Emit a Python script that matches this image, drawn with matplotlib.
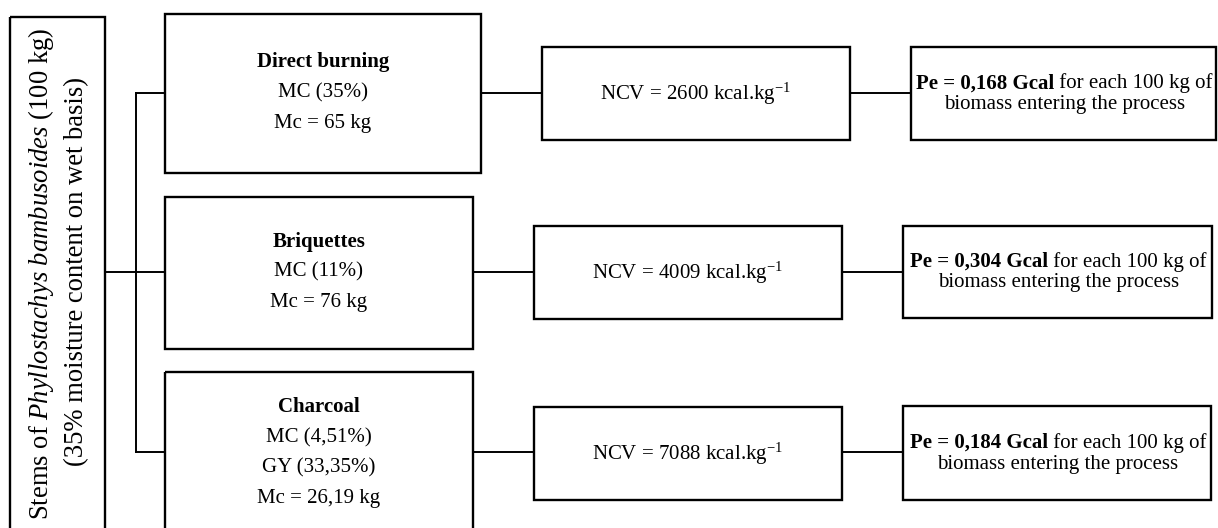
import matplotlib
matplotlib.use('Agg')
from matplotlib import pyplot as plt
from matplotlib.patches import Rectangle

# Chart content
routes = ['Direct burning', 'Briquettes', 'Charcoal']
moisture = ['35%', '11%', '4,51%']
gravimetric_yield = [None, None, '33,35%']
mass_c = ['65', '76', '26,19']
ncv = ['2600', '4009', '7088']
pe = ['0,168', '0,304', '0,184']

# Fonts (Times-like)
plt.rcParams['font.family'] = ['Liberation Serif', 'DejaVu Serif']
plt.rcParams['mathtext.fontset'] = 'custom'
plt.rcParams['mathtext.rm'] = 'Liberation Serif'
plt.rcParams['mathtext.it'] = 'Liberation Serif:italic'
plt.rcParams['mathtext.bf'] = 'Liberation Serif:bold'

# Layout in pixels (x0, x1, y0, y1)
proc_boxes = [(165, 481, 14, 173), (165, 473, 197, 349), (165, 473, 372, 560)]
ncv_boxes = [(542, 850, 47, 140), (534, 842, 226, 319), (534, 842, 407, 500)]
pe_boxes = [(911, 1216, 47, 140), (903, 1212, 226, 318), (903, 1211, 406, 500)]
row_y = [93, 272, 452]
line_gap = 30.5
fs = 15
lw_box = 1.7
lw_line = 1.4

fig = plt.figure(figsize=(12.18, 5.28), dpi=100)
ax = fig.add_axes([0, 0, 1, 1])
ax.set_xlim(0, 1218)
ax.set_ylim(528, 0)
ax.axis('off')
renderer = fig.canvas.get_renderer()


def box(b):
    x0, x1, y0, y1 = b
    ax.add_patch(Rectangle((x0, y0), x1 - x0, y1 - y0, fill=False,
                           edgecolor='black', linewidth=lw_box))


def mixed_line(cx, y, bold_part, plain_part):
    # bold run followed by plain run, centred as one line
    tb = ax.text(0, y, bold_part, ha='left', va='center', fontsize=fs, fontweight='bold')
    tp = ax.text(0, y, plain_part, ha='left', va='center', fontsize=fs)
    wb = tb.get_window_extent(renderer).width
    wp = tp.get_window_extent(renderer).width
    x0 = cx - (wb + wp) / 2
    tb.set_x(x0)
    tp.set_x(x0 + wb)


# Left (source) box
box((10, 105, 17, 560))
ax.text(41, 274, r'Stems of $\mathit{Phyllostachys\ bambusoides}$ (100 kg)',
        rotation=90, ha='center', va='center', fontsize=19.2)
ax.text(77, 271, '(35% moisture content on wet basis)',
        rotation=90, ha='center', va='center', fontsize=19.2)

# Connectors from source
ax.plot([105, 136], [272, 272], color='black', lw=lw_line)
ax.plot([136, 136], [row_y[0], row_y[-1]], color='black', lw=lw_line)

for i in range(len(routes)):
    y = row_y[i]
    pb, nb, eb = proc_boxes[i], ncv_boxes[i], pe_boxes[i]
    ax.plot([136, pb[0]], [y, y], color='black', lw=lw_line)
    ax.plot([pb[1], nb[0]], [y, y], color='black', lw=lw_line)
    ax.plot([nb[1], eb[0]], [y, y], color='black', lw=lw_line)
    box(pb)
    box(nb)
    box(eb)

    # process box text
    lines = ['MC (%s)' % moisture[i]]
    if gravimetric_yield[i]:
        lines.append('GY (%s)' % gravimetric_yield[i])
    lines.append('Mc = %s kg' % mass_c[i])
    n = len(lines) + 1
    cx = (pb[0] + pb[1]) / 2
    y_start = y - (n - 1) * line_gap / 2
    if i == 2:
        y_start = 407
    ax.text(cx, y_start, routes[i], ha='center', va='center',
            fontsize=fs, fontweight='bold')
    for k, t in enumerate(lines):
        ax.text(cx, y_start + (k + 1) * line_gap, t, ha='center', va='center', fontsize=fs)

    # NCV box text
    ax.text((nb[0] + nb[1]) / 2, (nb[2] + nb[3]) / 2,
            'NCV = %s kcal.kg$^{-1}$' % ncv[i], ha='center', va='center', fontsize=fs)

    # Pe box text
    ecx = (eb[0] + eb[1]) / 2 + 1
    ecy = (eb[2] + eb[3]) / 2
    mixed_line(ecx, ecy - 10, 'Pe = %s Gcal' % pe[i], ' for each 100 kg of')
    ax.text(ecx, ecy + 11, 'biomass entering the process',
            ha='center', va='center', fontsize=fs)

fig.savefig('out.png', dpi=100)
